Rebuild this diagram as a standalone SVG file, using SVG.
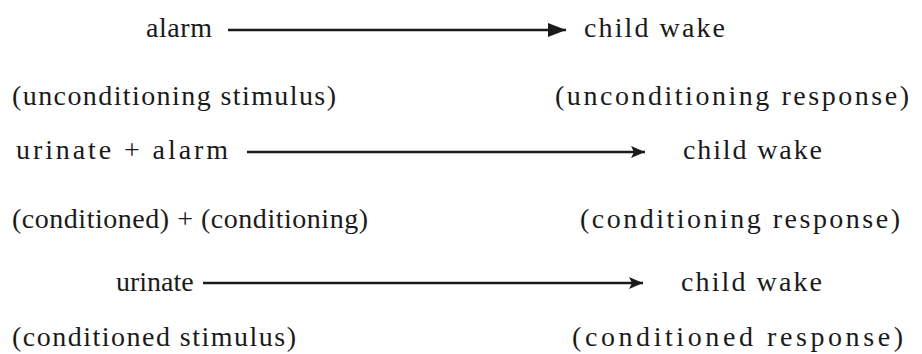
<svg xmlns="http://www.w3.org/2000/svg" width="922" height="354" viewBox="0 0 922 354">
<style>
text{font-family:"Liberation Serif","Times New Roman",serif;font-size:28px;fill:#1a1a1a}
.c{stroke:#1a1a1a;stroke-width:2.4;fill:none}
</style>
<defs>
<marker id="ah" markerUnits="userSpaceOnUse" markerWidth="20" markerHeight="14" refX="18" refY="7" orient="auto">
<path d="M0,0 L18,7 L0,14 Z" fill="#1a1a1a"/>
</marker>
<marker id="ah2" markerUnits="userSpaceOnUse" markerWidth="16" markerHeight="12" refX="14" refY="6" orient="auto">
<path d="M0,0 L14,6 L0,12 L3,6 Z" fill="#1a1a1a"/>
</marker>
</defs>
<rect width="922" height="354" fill="#fff"/>
<g id="connectors">
<line class="c" x1="228" y1="30" x2="566" y2="30" marker-end="url(#ah)"/>
<line class="c" x1="247" y1="152" x2="645" y2="152" marker-end="url(#ah2)"/>
<line class="c" x1="203" y1="283" x2="643" y2="283" marker-end="url(#ah2)"/>
</g>
<g id="alarm"><text x="146" y="37" textLength="66" lengthAdjust="spacing">alarm</text></g>
<g id="wake1"><text x="584" y="37" textLength="141" lengthAdjust="spacing">child  wake</text></g>
<g id="ucs"><text x="12" y="105" textLength="324" lengthAdjust="spacing">(unconditioning  stimulus)</text></g>
<g id="ucr"><text x="555" y="105" textLength="354" lengthAdjust="spacing">(unconditioning  response)</text></g>
<g id="urinate-alarm"><text x="16" y="159" textLength="212" lengthAdjust="spacing">urinate + alarm</text></g>
<g id="wake2"><text x="683" y="159" textLength="139" lengthAdjust="spacing">child  wake</text></g>
<g id="pair"><text x="12" y="228" textLength="356" lengthAdjust="spacing">(conditioned) + (conditioning)</text></g>
<g id="cr-ing"><text x="580" y="228" textLength="320" lengthAdjust="spacing">(conditioning  response)</text></g>
<g id="urinate"><text x="116" y="291">urinate</text></g>
<g id="wake3"><text x="681" y="291" textLength="141" lengthAdjust="spacing">child  wake</text></g>
<g id="cs"><text x="12" y="346" textLength="284" lengthAdjust="spacing">(conditioned  stimulus)</text></g>
<g id="cr"><text x="572" y="346" textLength="331" lengthAdjust="spacing">(conditioned  response)</text></g>
</svg>
